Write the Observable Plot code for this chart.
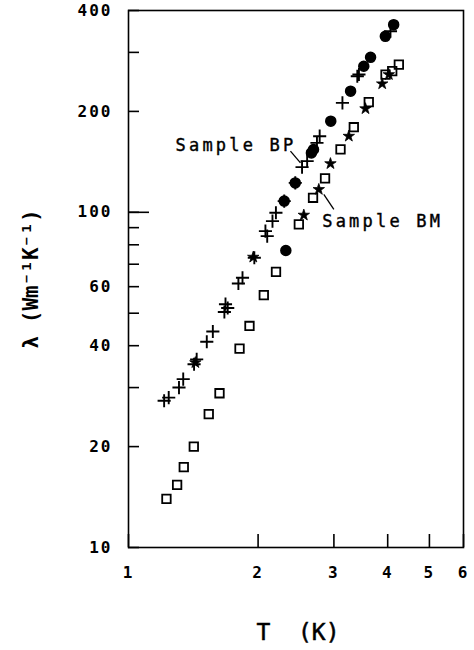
<!DOCTYPE html>
<html><head><meta charset="utf-8">
<script src="https://cdn.jsdelivr.net/npm/d3@7"></script>
<script src="https://cdn.jsdelivr.net/npm/@observablehq/plot@0.6"></script>
<style>
body{margin:0;background:#fff}
#chart text{letter-spacing:2px;font-weight:bold}
#chart g[aria-description="annot"] text{letter-spacing:3.2px;font-weight:normal;stroke:black;stroke-width:0.4px}
#chart g[aria-description="ytitle"] text{letter-spacing:0px}
#chart g[aria-description="xtitle"] text{letter-spacing:0px;font-weight:normal;stroke:black;stroke-width:0.5px}
</style></head><body><div id="chart"></div>
<script>
// Sample BP: crosses
const crossT = [1.21,1.24,1.31,1.34,1.42,1.44,1.52,1.57,1.67,1.68,1.70,1.80,1.84,1.96,2.08,2.10,2.16,2.20,2.30,2.44,2.53,2.60,2.74,2.78,3.14,3.40,3.43,4.06];
const crossL = [27.4,28.0,30.0,31.8,35.2,36.4,41.1,44.1,50.4,53.2,51.8,61.3,63.8,73.2,87.9,84.9,94.1,99.7,108,122.4,136.4,142.1,161.1,168.7,212.1,254.7,257.6,346.8];
// Sample BP: filled circles
const circleT = [2.32,2.30,2.44,2.66,2.69,2.95,3.28,3.52,3.65,3.95,4.13];
const circleL = [76.9,108,122.4,150.4,154.0,187,229.8,272.8,290,335,363];
// Sample BM: open squares
const squareT = [1.225,1.297,1.344,1.418,1.536,1.627,1.811,1.910,2.062,2.201,2.487,2.683,2.861,3.108,3.337,3.615,3.954,4.098,4.246];
const squareL = [13.97,15.38,17.37,20.0,25.0,28.85,39.2,45.8,56.6,66.4,92.0,110.5,126.2,154.0,179.4,213.1,257.6,263.6,275.9];
// Sample BM: filled stars
const starT = [1.43,1.949,2.554,2.767,2.945,3.249,3.552,3.884,4.025];
const starL = [35.6,73.5,98.1,117.0,139.7,168.7,203.7,241.8,257.6];

// axis ticks
const xTicks = [1,2,3,4,5,6];
const yTicksLabeled = [10,20,40,60,100,200,400];
const yTicksMinor = [30,50,70,80,90,300];
const yTickLong = [100];

// annotations
const labelText = ["Sample BP","Sample BM"];
const labelT = [1.286,2.818];
const labelL = [158.6,94.1];
const leadT1 = [2.378,2.842], leadL1 = [152.2,113.1];
const leadT2 = [2.509,2.999], leadL2 = [140.4,102.0];

const pts = (T,L) => T.map((t,i)=>({T:t,L:L[i]}));
const labels = labelText.map((s,i)=>({s,T:labelT[i],L:labelL[i]}));
const leads = leadT1.map((t,i)=>({x1:t,y1:leadL1[i],x2:leadT2[i],y2:leadL2[i]}));

const plot = Plot.plot({
  width:474, height:650,
  marginLeft:128, marginRight:11, marginTop:10, marginBottom:103,
  style:{fontFamily:"'DejaVu Sans Mono', monospace", fontSize:"16px", color:"black", background:"white"},
  x:{type:"log", domain:[1,6]},
  y:{type:"log", domain:[10,400]},
  marks:[
    Plot.frame({stroke:"black", strokeWidth:1.6}),
    Plot.axisX({ticks:xTicks, tickSize:-13, tickPadding:32, tickFormat:d=>String(d), label:null, strokeWidth:1.6}),
    Plot.axisY({ticks:yTicksLabeled, tickSize:-11, tickPadding:27, tickFormat:d=>String(d), label:null, strokeWidth:1.6}),
    Plot.axisY({ticks:yTickLong, tickSize:-21, tickFormat:()=>"", label:null, strokeWidth:1.6}),
    Plot.axisY({ticks:yTicksMinor, tickSize:-11, tickFormat:()=>"", label:null, strokeWidth:1.6}),
    Plot.dot(pts(squareT,squareL), {x:"T", y:"L", symbol:"square2", r:5.4, stroke:"black", strokeWidth:1.8}),
    Plot.dot(pts(circleT,circleL), {x:"T", y:"L", symbol:"circle", r:5, fill:"black", stroke:"black"}),
    Plot.dot(pts(starT,starL), {x:"T", y:"L", symbol:"star", r:3.6, fill:"black", stroke:"black", strokeWidth:0.8}),
    Plot.dot(pts(crossT,crossL), {x:"T", y:"L", symbol:"plus", r:4.3, stroke:"black", strokeWidth:1.9}),
    Plot.link(leads, {x1:"x1", y1:"y1", x2:"x2", y2:"y2", stroke:"black", strokeWidth:1.3}),
    Plot.text(labels, {x:"T", y:"L", text:"s", textAnchor:"start", fontSize:17, fill:"black", ariaDescription:"annot"}),
    Plot.text(["λ (Wm⁻¹K⁻¹)"], {frameAnchor:"left", textAnchor:"middle", dx:-97, rotate:-90, fontSize:21, fill:"black", ariaDescription:"ytitle"}),
    Plot.text(["T  (K)"], {frameAnchor:"bottom", dy:92, dx:2, fontSize:23, fill:"black", ariaDescription:"xtitle"})
  ]
});
document.getElementById("chart").appendChild(plot);
</script></body></html>
